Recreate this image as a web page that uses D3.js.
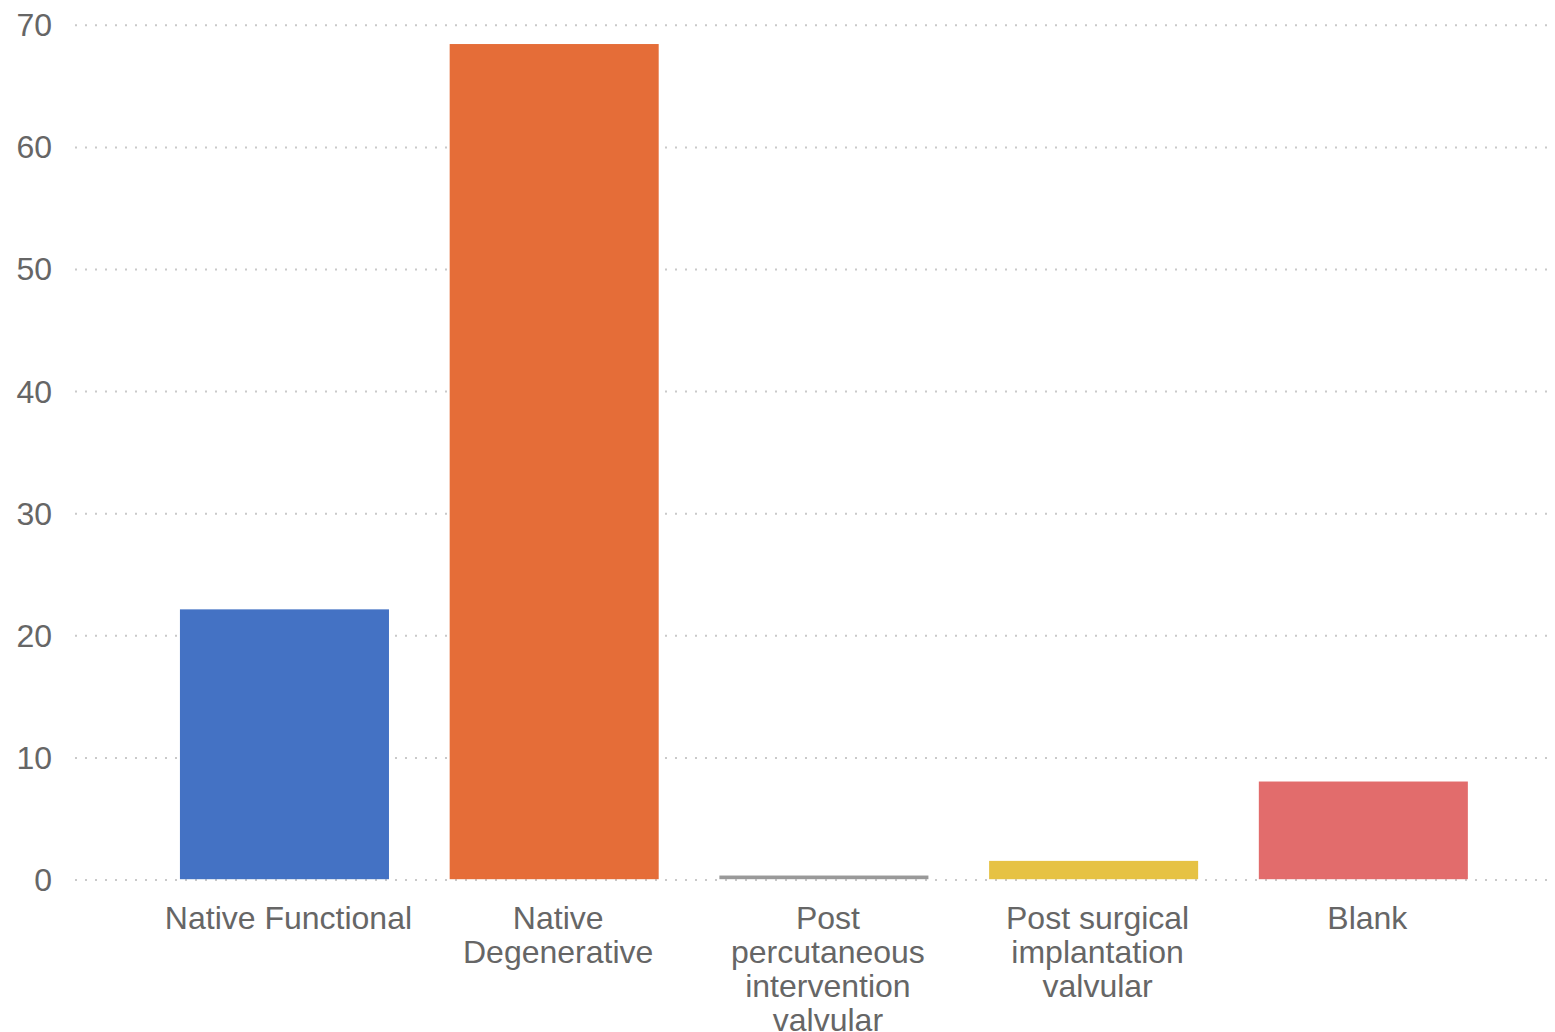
<!DOCTYPE html>
<html>
<head>
<meta charset="utf-8">
<script src="https://cdn.jsdelivr.net/npm/d3@7"></script>
<style>
  html, body { margin: 0; padding: 0; background: #ffffff; }
  svg { display: block; }
  text { font-family: "Liberation Sans", Arial, sans-serif; fill: #666666; }
</style>
</head>
<body>
<svg id="chart" width="1555" height="1032"></svg>
<script>
// Mitral regurgitation aetiology, percentage of patients
const categories = [
  "Native Functional",
  "Native Degenerative",
  "Post percutaneous intervention valvular",
  "Post surgical implantation valvular",
  "Blank"
];
const values = [22.1, 68.4, 0.3, 1.5, 8.0];
const barColors = ["#4472c4", "#e56d38", "#999999", "#e6c244", "#e26c6c"];
const yTicks = [0, 10, 20, 30, 40, 50, 60, 70];

const svg = d3.select("#chart");
const W = 1555, H = 1032;

const x = d3.scaleBand()
  .domain(categories)
  .range([149.6, 1498.2])
  .paddingInner(0.225)
  .paddingOuter(0.1125);

const y = d3.scaleLinear()
  .domain([0, 70])
  .range([879.2, 24.5]);

// dotted horizontal gridlines
const grid = svg.append("g").attr("class", "grid");
grid.selectAll("line")
  .data(yTicks)
  .join("line")
  .attr("x1", 75)
  .attr("x2", W)
  .attr("y1", d => y(d) + 0.8)
  .attr("y2", d => y(d) + 0.8)
  .attr("stroke", "#c9c9c9")
  .attr("stroke-width", 2)
  .attr("stroke-dasharray", "2 8");

// y axis labels
const yAxis = d3.axisLeft(y).tickValues(yTicks).tickSize(0).tickPadding(0).tickFormat(d3.format("d"));
const yg = svg.append("g")
  .attr("transform", "translate(52,0)")
  .call(yAxis);
yg.select(".domain").remove();
yg.selectAll("text")
  .attr("font-size", 32)
  .attr("font-family", "'Liberation Sans', Arial, sans-serif")
  .attr("fill", "#666666")
  .attr("dy", "0.35em");

// bars
svg.append("g").selectAll("rect")
  .data(values)
  .join("rect")
  .attr("x", (d, i) => x(categories[i]))
  .attr("width", x.bandwidth())
  .attr("y", d => y(d))
  .attr("height", d => y(0) - y(d))
  .attr("fill", (d, i) => barColors[i]);

// category labels, wrapped to fit each band
const labelWidth = 255;
const lineHeight = 34;
const labelShift = 4;
const measurer = svg.append("text").attr("font-size", 32).attr("visibility", "hidden");
function wrap(str) {
  const words = str.split(" ");
  const lines = [];
  let cur = "";
  words.forEach(w => {
    const trial = cur ? cur + " " + w : w;
    measurer.text(trial);
    if (cur && measurer.node().getComputedTextLength() > labelWidth) {
      lines.push(cur);
      cur = w;
    } else {
      cur = trial;
    }
  });
  if (cur) lines.push(cur);
  return lines;
}

const labels = svg.append("g");
categories.forEach(c => {
  const cx = x(c) + x.bandwidth() / 2 + labelShift;
  const t = labels.append("text")
    .attr("text-anchor", "middle")
    .attr("font-size", 32)
    .attr("x", cx)
    .attr("y", 929);
  wrap(c).forEach((ln, i) => {
    t.append("tspan")
      .attr("x", cx)
      .attr("dy", i === 0 ? 0 : lineHeight)
      .text(ln);
  });
});
measurer.remove();
</script>
</body>
</html>
